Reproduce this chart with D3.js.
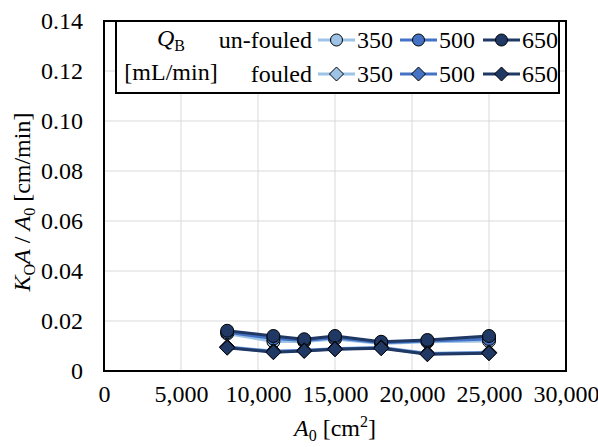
<!DOCTYPE html>
<html>
<head>
<meta charset="utf-8">
<script src="https://cdn.jsdelivr.net/npm/d3@7"></script>
<style>
  html, body { margin: 0; padding: 0; background: #fff; }
  svg#chart text, svg#chart tspan { font-family: "Liberation Serif" !important; }
</style>
</head>
<body>
<svg id="chart" width="598" height="447" font-family="Liberation Serif"></svg>
<script>
// Membrane area A0 [cm2]
const areas = [8000, 11000, 13000, 15000, 18000, 21000, 25000];

// Blood flow rates QB [mL/min]
const flowRates = ["350", "500", "650"];

// KoA / A0 [cm/min], un-fouled dialyzers
const unfouled350 = [0.0150, 0.0118, 0.0118, 0.0128, 0.0110, 0.0117, 0.0120];
const unfouled500 = [0.0155, 0.0130, 0.0122, 0.0133, 0.0113, 0.0120, 0.0128];
const unfouled650 = [0.0161, 0.0140, 0.0127, 0.0140, 0.0117, 0.0124, 0.0140];

// KoA / A0 [cm/min], fouled dialyzers
const fouled350 = [0.0097, 0.0080, 0.0083, 0.0090, 0.0095, 0.0071, 0.0075];
const fouled500 = [0.0095, 0.0078, 0.0082, 0.0088, 0.0093, 0.0069, 0.0073];
const fouled650 = [0.0093, 0.0075, 0.0080, 0.0087, 0.0091, 0.0067, 0.0071];

const xTicks = [0, 5000, 10000, 15000, 20000, 25000, 30000];
const yTicks = [0, 0.02, 0.04, 0.06, 0.08, 0.10, 0.12, 0.14];

const colors = { "350": "#9dc3e6", "500": "#4472c4", "650": "#1f3864" };

const series = [
  { state: "unfouled", q: "350", values: unfouled350 },
  { state: "unfouled", q: "500", values: unfouled500 },
  { state: "unfouled", q: "650", values: unfouled650 },
  { state: "fouled",   q: "350", values: fouled350 },
  { state: "fouled",   q: "500", values: fouled500 },
  { state: "fouled",   q: "650", values: fouled650 }
];

const fontSize = 24;
const subSize = 16;

const svg = d3.select("#chart");
const plot = { left: 104, right: 566, top: 21, bottom: 371 };

const x = d3.scaleLinear().domain([0, 30000]).range([plot.left, plot.right]);
const y = d3.scaleLinear().domain([0, 0.14]).range([plot.bottom, plot.top]);

// Common text styling
const textStyle = sel => sel.attr("font-family", "Liberation Serif")
  .style("font-size", fontSize + "px").attr("fill", "#000");

// Gridlines
svg.append("g").selectAll("line")
  .data(xTicks.slice(1, -1)).join("line")
  .attr("x1", d => x(d)).attr("x2", d => x(d))
  .attr("y1", plot.top).attr("y2", plot.bottom)
  .attr("stroke", "#d9d9d9").attr("stroke-width", 1);
svg.append("g").selectAll("line")
  .data(yTicks.slice(1, -1)).join("line")
  .attr("x1", plot.left).attr("x2", plot.right)
  .attr("y1", d => y(d)).attr("y2", d => y(d))
  .attr("stroke", "#d9d9d9").attr("stroke-width", 1);

// Axes (tick labels only; the frame is drawn separately)
const fmtY = d => d === 0 ? "0" : d3.format(".2f")(d);
const yAxis = svg.append("g")
  .attr("transform", `translate(${plot.left},0)`)
  .call(d3.axisLeft(y).tickValues(yTicks).tickFormat(fmtY).tickSize(0).tickPadding(21));
const xAxis = svg.append("g")
  .attr("transform", `translate(0,${plot.bottom})`)
  .call(d3.axisBottom(x).tickValues(xTicks).tickFormat(d3.format(",")).tickSize(0).tickPadding(14));
[yAxis, xAxis].forEach(g => {
  g.select(".domain").remove();
  g.attr("font-family", "Liberation Serif").attr("font-size", fontSize);
  g.selectAll("text").call(textStyle);
});

// Data series
const line = d3.line().x((d, i) => x(areas[i])).y(d => y(d));
const diamond = r => `M0,${-r}L${r},0L0,${r}L${-r},0Z`;

series.forEach(s => {
  const g = svg.append("g");
  g.append("path").datum(s.values)
    .attr("d", line).attr("fill", "none")
    .attr("stroke", colors[s.q]).attr("stroke-width", 3).attr("stroke-linejoin", "round");
  if (s.state === "unfouled") {
    g.selectAll("circle").data(s.values).join("circle")
      .attr("cx", (d, i) => x(areas[i])).attr("cy", d => y(d)).attr("r", 6.5)
      .attr("fill", colors[s.q]).attr("stroke", "#000").attr("stroke-width", 1);
  } else {
    g.selectAll("path.m").data(s.values).join("path").attr("class", "m")
      .attr("transform", (d, i) => `translate(${x(areas[i])},${y(d)})`)
      .attr("d", diamond(7.5))
      .attr("fill", colors[s.q]).attr("stroke", "#000").attr("stroke-width", 1);
  }
});

// Plot frame
svg.append("rect")
  .attr("x", plot.left).attr("y", plot.top)
  .attr("width", plot.right - plot.left).attr("height", plot.bottom - plot.top)
  .attr("fill", "none").attr("stroke", "#000").attr("stroke-width", 2);

// Legend
const lg = svg.append("g");
lg.append("rect").attr("x", 116).attr("y", 21).attr("width", 443).attr("height", 72)
  .attr("fill", "#fff").attr("stroke", "#000").attr("stroke-width", 2);

const qb = lg.append("text").attr("x", 171).attr("y", 46).attr("text-anchor", "middle").call(textStyle);
qb.append("tspan").style("font-style", "italic").text("Q");
qb.append("tspan").style("font-size", subSize + "px").attr("dy", 5).text("B");
lg.append("text").attr("x", 171).attr("y", 80).attr("text-anchor", "middle").call(textStyle).text("[mL/min]");

const rows = [
  { state: "unfouled", label: "un-fouled", cy: 40 },
  { state: "fouled", label: "fouled", cy: 74 }
];
const itemX = { "350": 318, "500": 400, "650": 483 };
rows.forEach(r => {
  lg.append("text").attr("x", 312).attr("y", r.cy + 8).attr("text-anchor", "end").call(textStyle).text(r.label);
  flowRates.forEach(q => {
    const x0 = itemX[q];
    lg.append("line").attr("x1", x0).attr("x2", x0 + 37).attr("y1", r.cy).attr("y2", r.cy)
      .attr("stroke", colors[q]).attr("stroke-width", 3);
    if (r.state === "unfouled") {
      lg.append("circle").attr("cx", x0 + 18.5).attr("cy", r.cy).attr("r", 6)
        .attr("fill", colors[q]).attr("stroke", "#000").attr("stroke-width", 1);
    } else {
      lg.append("path").attr("transform", `translate(${x0 + 18.5},${r.cy})`)
        .attr("d", diamond(7)).attr("fill", colors[q]).attr("stroke", "#000").attr("stroke-width", 1);
    }
    lg.append("text").attr("x", x0 + 39).attr("y", r.cy + 8).call(textStyle).text(q);
  });
});

// Axis titles
const xt = svg.append("text").attr("x", 335).attr("y", 436).attr("text-anchor", "middle").call(textStyle);
xt.append("tspan").style("font-style", "italic").text("A");
xt.append("tspan").style("font-size", subSize + "px").attr("dy", 5).text("0");
xt.append("tspan").attr("dy", -5).text(" [cm");
xt.append("tspan").style("font-size", subSize + "px").attr("dy", -9).text("2");
xt.append("tspan").attr("dy", 9).text("]");

const yt = svg.append("text")
  .attr("transform", "translate(30,202) rotate(-90)")
  .attr("text-anchor", "middle").call(textStyle);
yt.append("tspan").style("font-style", "italic").text("K");
yt.append("tspan").style("font-size", subSize + "px").attr("dy", 5).text("O");
yt.append("tspan").style("font-style", "italic").attr("dy", -5).text("A");
yt.append("tspan").text(" / ");
yt.append("tspan").style("font-style", "italic").text("A");
yt.append("tspan").style("font-size", subSize + "px").attr("dy", 5).text("0");
yt.append("tspan").attr("dy", -5).text(" [cm/min]");
</script>
</body>
</html>
